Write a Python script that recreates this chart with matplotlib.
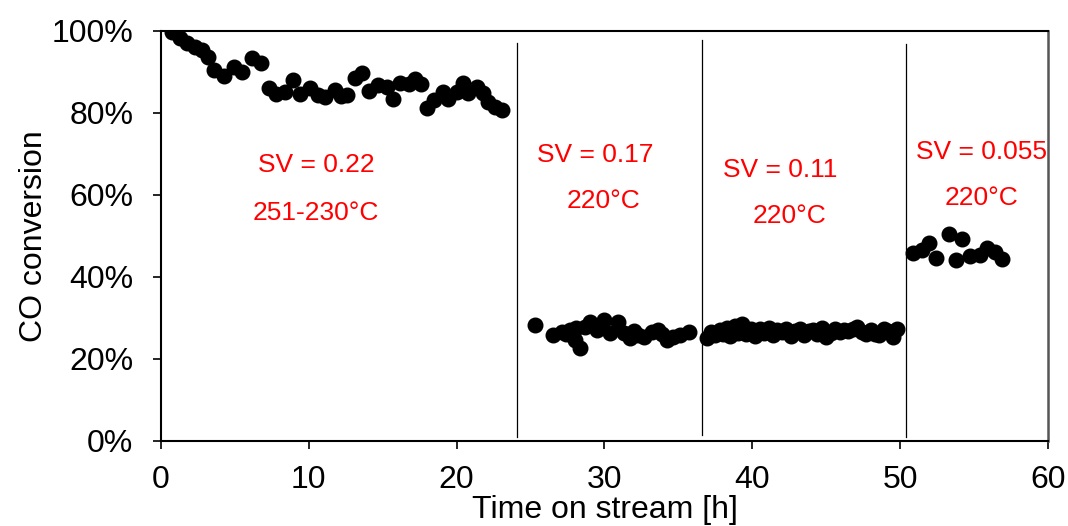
import matplotlib
matplotlib.use("Agg")
import matplotlib.pyplot as plt
from matplotlib.ticker import FuncFormatter

plt.rcParams['font.family'] = ['Liberation Sans', 'DejaVu Sans']

# Period 1: SV = 0.22, 251-230 °C
p1_time = [0.76, 1.28, 1.74, 2.3, 2.75, 3.16, 3.6, 4.28, 4.96, 5.45, 6.13, 6.8,
           7.33, 7.76, 8.4, 8.9, 9.4, 10.1, 10.65, 11.1, 11.8, 12.2, 12.6, 13.1,
           13.6, 14.1, 14.7, 15.3, 15.7, 16.2, 16.8, 17.2, 17.6, 18.0, 18.5,
           19.05, 19.4, 20.0, 20.4, 20.8, 21.4, 21.8, 22.15, 22.6, 23.05]
p1_conv = [99.8, 98.2, 97.1, 96.2, 95.4, 93.6, 90.5, 88.9, 91.3, 90.1, 93.5, 92.1,
           86.0, 84.6, 85.0, 88.0, 84.6, 86.0, 84.4, 83.8, 85.6, 84.1, 84.4, 88.5,
           89.8, 85.4, 86.8, 86.4, 83.3, 87.2, 87.1, 88.2, 87.1, 81.1, 83.2,
           85.2, 83.3, 85.2, 87.2, 84.8, 86.4, 84.8, 82.8, 81.5, 80.7]

# Period 2: SV = 0.17, 220 °C
p2_time = [25.3, 26.55, 27.1, 27.4, 27.7, 28.0, 28.1, 28.35, 28.7, 29.0, 29.5,
           30.0, 30.4, 30.9, 31.3, 31.7, 32.0, 32.3, 32.7, 33.2, 33.6, 33.9,
           34.2, 34.65, 35.1, 35.7]
p2_conv = [28.3, 25.9, 26.7, 26.0, 27.1, 24.6, 27.5, 22.6, 27.9, 29.1, 27.1,
           29.5, 26.3, 29.1, 26.3, 25.0, 26.8, 25.9, 25.4, 26.7, 27.1, 26.2,
           24.6, 25.4, 25.9, 26.7]

# Period 3: SV = 0.11, 220 °C
p3_time = [36.9, 37.2, 37.5, 37.8, 38.0, 38.3, 38.5, 38.8, 39.0, 39.3, 39.6,
           39.9, 40.2, 40.5, 40.8, 41.1, 41.4, 41.7, 42.0, 42.3, 42.6, 42.9,
           43.2, 43.5, 43.8, 44.1, 44.4, 44.7, 45.0, 45.3, 45.6, 45.9, 46.2,
           46.5, 46.8, 47.1, 47.4, 47.7, 48.0, 48.3, 48.6, 48.9, 49.2, 49.5,
           49.8]
p3_conv = [25.2, 26.5, 25.8, 27.0, 26.2, 27.6, 25.5, 28.0, 26.4, 28.6, 26.0,
           27.4, 25.6, 27.2, 26.3, 27.5, 25.8, 27.0, 26.6, 27.3, 25.7, 26.8,
           27.2, 25.9, 26.9, 27.1, 26.0, 27.6, 25.3, 26.4, 27.2, 26.5, 27.0,
           26.8, 27.4, 27.8, 26.7, 26.0, 27.1, 26.2, 25.8, 27.4, 26.9, 25.3,
           27.3]

# Period 4: SV = 0.055, 220 °C
p4_time = [50.9, 51.45, 51.95, 52.4, 53.3, 53.8, 54.2, 54.7, 55.4, 55.9, 56.4, 56.9]
p4_conv = [45.8, 46.6, 48.4, 44.6, 50.5, 44.1, 49.2, 45.1, 45.4, 47.0, 46.2, 44.3]

# Boundaries between space-velocity periods: (time, bottom %, top %)
sep_time = [24.1, 36.6, 50.4]
sep_bottom = [1.0, 1.5, 1.0]
sep_top = [97.1, 97.8, 96.8]

# Period labels: (time, conversion, text)
label_time = [10.5, 10.5, 29.4, 29.95, 41.9, 42.5, 55.5, 55.5]
label_conv = [67.3, 55.6, 69.8, 58.5, 66.1, 54.9, 70.5, 59.3]
label_text = ["SV = 0.22", "251-230°C", "SV = 0.17", "220°C",
              "SV = 0.11", "220°C", "SV = 0.055", "220°C"]

fig = plt.figure(figsize=(10.68, 5.26), dpi=100)
ax = fig.add_axes([0.1507, 0.1616, 0.8306, 0.7795])

for t, c in [(p1_time, p1_conv), (p2_time, p2_conv),
             (p3_time, p3_conv), (p4_time, p4_conv)]:
    ax.plot(t, c, linestyle='none', marker='o', markersize=10.5,
            color='black', zorder=3)

for x, b, t in zip(sep_time, sep_bottom, sep_top):
    ax.plot([x, x], [b, t], color='black', linewidth=0.9, zorder=2)

for x, y, s in zip(label_time, label_conv, label_text):
    ax.text(x, y, s, color='#ff0000', fontsize=19, ha='center', va='center')

ax.set_xlim(0, 60)
ax.set_ylim(0, 100)
ax.set_xticks(range(0, 61, 10))
ax.set_yticks(range(0, 101, 20))
ax.yaxis.set_major_formatter(FuncFormatter(lambda v, _: f"{int(v)}%"))
ax.tick_params(axis='both', direction='out', length=6, width=1.2,
               labelsize=23, color='black')
ax.tick_params(axis='x', pad=11)
ax.tick_params(axis='y', pad=14)

for side in ['left', 'bottom', 'top']:
    ax.spines[side].set_linewidth(1.5)
    ax.spines[side].set_color('black')
ax.spines['right'].set_linewidth(1.8)
ax.spines['right'].set_color('#555555')

ax.set_xlabel("Time on stream [h]", fontsize=23, labelpad=0)
ax.set_ylabel("CO conversion", fontsize=23, labelpad=2)

fig.savefig("out.png", dpi=100)
